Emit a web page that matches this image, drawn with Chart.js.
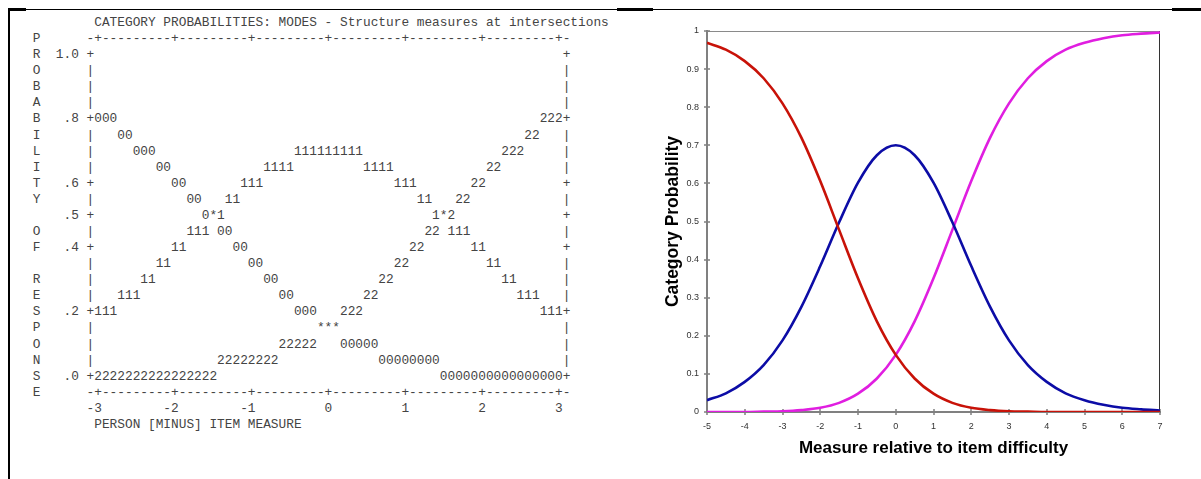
<!DOCTYPE html>
<html>
<head>
<meta charset="utf-8">
<script src="https://cdn.jsdelivr.net/npm/chart.js@4.4.1/dist/chart.umd.min.js"></script>
<style>
  html, body { margin:0; padding:0; background:#fff; }
  body { width:1201px; height:479px; overflow:hidden; position:relative; }
  #ascii { position:absolute; left:32.8px; top:15px; margin:0; font-family:"Liberation Mono", "DejaVu Sans Mono", monospace; font-size:12.8px; line-height:16.08px; color:#444; white-space:pre; }
  .ln { position:absolute; background:#000; }
  #wrap { position:absolute; left:640px; top:0; width:561px; height:479px; }
</style>
</head>
<body>
<div class="ln" style="left:8px;top:9px;width:1193px;height:1px;"></div>
<div class="ln" style="left:8px;top:8px;width:18px;height:3px;"></div>
<div class="ln" style="left:617px;top:8px;width:36px;height:3px;"></div>
<div class="ln" style="left:1172px;top:8px;width:29px;height:3px;"></div>
<div class="ln" style="left:8px;top:9px;width:2px;height:470px;"></div>
<pre id="ascii"></pre>
<div id="wrap"><canvas id="c"></canvas></div>
<script>
// ---- Right chart data ----
const measures = [-5,-4.5,-4,-3.5,-3,-2.5,-2,-1.5,-1,-0.5,0,0.5,1,1.5,2,2.5,3,3.5,4,4.5,5,5.5,6,6.5,7];
const category0 = [0.969,0.951,0.921,0.876,0.810,0.720,0.606,0.478,0.351,0.238,0.150,0.088,0.048,0.024,0.011,0.005,0.002,0.001,0.000,0.000,0.000,0.000,0.000,0.000,0.000];
const category1 = [0.031,0.049,0.079,0.123,0.188,0.276,0.383,0.498,0.602,0.674,0.700,0.674,0.602,0.498,0.383,0.276,0.188,0.123,0.079,0.049,0.031,0.019,0.011,0.007,0.004];
const category2 = [0.000,0.000,0.000,0.001,0.002,0.005,0.011,0.024,0.048,0.088,0.150,0.238,0.351,0.478,0.606,0.720,0.810,0.876,0.921,0.951,0.969,0.981,0.989,0.993,0.996];
const xTickLabels = ['-5','-4','-3','-2','-1','0','1','2','3','4','5','6','7'];
const yTickLabels = ['0','0.1','0.2','0.3','0.4','0.5','0.6','0.7','0.8','0.9','1'];
const xTitle = 'Measure relative to item difficulty';
const yTitle = 'Category Probability';

// ---- Left ASCII plot (text, placed by character column) ----
const asciiTitle = 'CATEGORY PROBABILITIES: MODES - Structure measures at intersections';
const asciiAxis = '-+' + '---------+'.repeat(6) + '-';
const asciiRows = [
  [[8, asciiTitle]],
  [[0,'P'],[7,asciiAxis]],
  [[0,'R'],[3,'1.0'],[7,'+'],[69,'+']],
  [[0,'O'],[7,'|'],[69,'|']],
  [[0,'B'],[7,'|'],[69,'|']],
  [[0,'A'],[7,'|'],[69,'|']],
  [[0,'B'],[4,'.8'],[7,'+000'],[66,'222+']],
  [[0,'I'],[7,'|'],[11,'00'],[64,'22'],[69,'|']],
  [[0,'L'],[7,'|'],[13,'000'],[34,'111111111'],[61,'222'],[69,'|']],
  [[0,'I'],[7,'|'],[16,'00'],[30,'1111'],[43,'1111'],[59,'22'],[69,'|']],
  [[0,'T'],[4,'.6'],[7,'+'],[18,'00'],[27,'111'],[47,'111'],[57,'22'],[69,'+']],
  [[0,'Y'],[7,'|'],[20,'00'],[25,'11'],[50,'11'],[55,'22'],[69,'|']],
  [[4,'.5'],[7,'+'],[22,'0*1'],[52,'1*2'],[69,'+']],
  [[0,'O'],[7,'|'],[20,'111'],[24,'00'],[51,'22'],[54,'111'],[69,'|']],
  [[0,'F'],[4,'.4'],[7,'+'],[18,'11'],[26,'00'],[49,'22'],[57,'11'],[69,'+']],
  [[7,'|'],[16,'11'],[28,'00'],[47,'22'],[59,'11'],[69,'|']],
  [[0,'R'],[7,'|'],[14,'11'],[30,'00'],[45,'22'],[61,'11'],[69,'|']],
  [[0,'E'],[7,'|'],[11,'111'],[32,'00'],[43,'22'],[63,'111'],[69,'|']],
  [[0,'S'],[4,'.2'],[7,'+111'],[34,'000'],[40,'222'],[66,'111+']],
  [[0,'P'],[7,'|'],[37,'***'],[69,'|']],
  [[0,'O'],[7,'|'],[32,'22222'],[40,'00000'],[69,'|']],
  [[0,'N'],[7,'|'],[24,'22222222'],[45,'00000000'],[69,'|']],
  [[0,'S'],[4,'.0'],[7,'+2222222222222222'],[53,'0000000000000000+']],
  [[0,'E'],[7,asciiAxis]],
  [[7,'-3'],[17,'-2'],[27,'-1'],[38,'0'],[48,'1'],[58,'2'],[68,'3']],
  [[8,'PERSON [MINUS] ITEM MEASURE']]
];
function buildLine(parts) {
  const a = new Array(80).fill(' ');
  parts.forEach(([c, s]) => { for (let i = 0; i < s.length; i++) a[c + i] = s[i]; });
  return a.join('').replace(/\s+$/, '');
}
document.getElementById('ascii').textContent = asciiRows.map(buildLine).join('\n');

// ---- Chart ----
const boxPlugin = {
  id: 'box',
  beforeDatasetsDraw(chart) {
    const { ctx, chartArea: a, scales: { x, y } } = chart;
    ctx.save();
    ctx.lineWidth = 1;
    ctx.strokeStyle = '#8a8a8a';
    ctx.beginPath(); ctx.moveTo(a.left, a.top + 0.5); ctx.lineTo(a.right, a.top + 0.5); ctx.stroke();
    ctx.strokeStyle = '#333';
    ctx.beginPath(); ctx.moveTo(a.right - 0.5, a.top); ctx.lineTo(a.right - 0.5, a.bottom); ctx.stroke();
    // tick marks crossing the axes
    ctx.strokeStyle = '#808080';
    ctx.lineWidth = 1.5;
    ctx.beginPath();
    x.ticks.forEach(t => {
      const px = Math.round(x.getPixelForValue(t.value));
      ctx.moveTo(px, a.bottom - 3); ctx.lineTo(px, a.bottom + 3);
    });
    y.ticks.forEach(t => {
      const py = Math.round(y.getPixelForValue(t.value));
      ctx.moveTo(a.left - 3, py); ctx.lineTo(a.left + 3, py);
    });
    ctx.stroke();
    ctx.restore();
  }
};
const pts = arr => arr.map((v, i) => ({ x: measures[i], y: v }));
const tickFont = { family: 'Arial, "Liberation Sans", sans-serif', size: 9 };
new Chart(document.getElementById('c'), {
  type: 'line',
  data: {
    datasets: [
      { label: '0', data: pts(category0), borderColor: '#c81208', borderWidth: 2.6 },
      { label: '1', data: pts(category1), borderColor: '#0c0ca6', borderWidth: 2.6 },
      { label: '2', data: pts(category2), borderColor: '#e01ee0', borderWidth: 2.6 }
    ]
  },
  options: {
    responsive: true,
    maintainAspectRatio: false,
    animation: false,
    devicePixelRatio: 1,
    layout: { padding: { top: 31, right: 41, left: 0, bottom: 0 } },
    elements: { point: { radius: 0 }, line: { cubicInterpolationMode: 'monotone', fill: false } },
    plugins: { legend: { display: false }, tooltip: { enabled: false } },
    scales: {
      x: {
        type: 'linear', min: -5, max: 7,
        afterFit: s => { s.height = 67; },
        ticks: { stepSize: 1, padding: 9, maxRotation: 0, autoSkip: false, color: '#333', font: tickFont,
                 callback: (v, i) => xTickLabels[i] },
        grid: { drawOnChartArea: false, drawTicks: false },
        border: { display: true, color: '#808080', width: 2 },
        title: { display: true, text: xTitle, color: '#000', padding: { top: 0, bottom: 20 },
                 font: { family: 'Arial, "Liberation Sans", sans-serif', size: 17, weight: 'bold' } }
      },
      y: {
        min: 0, max: 1,
        afterFit: s => { s.width = 67; },
        ticks: { stepSize: 0.1, padding: 8, color: '#333', font: tickFont,
                 callback: (v, i) => yTickLabels[i] },
        grid: { drawOnChartArea: false, drawTicks: false },
        border: { display: true, color: '#808080', width: 2 },
        title: { display: true, text: yTitle, color: '#000', padding: { top: 23, bottom: 0 },
                 font: { family: 'Arial, "Liberation Sans", sans-serif', size: 17.5, weight: 'bold' } }
      }
    }
  },
  plugins: [boxPlugin]
});
</script>
</body>
</html>
